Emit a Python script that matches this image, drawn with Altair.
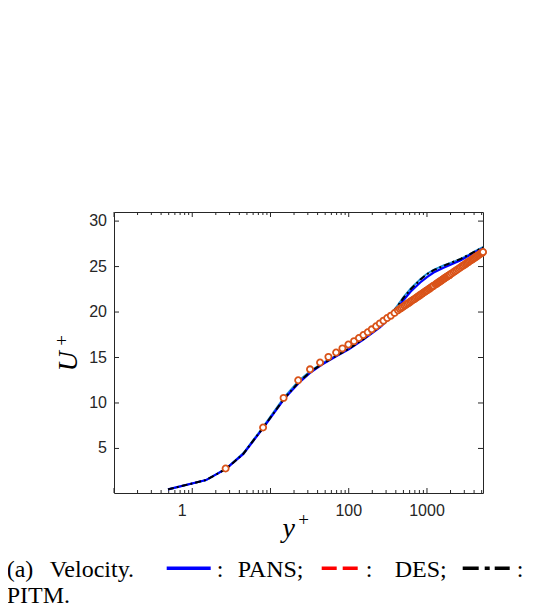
import altair as alt
import pandas as pd

# ---------------- data ----------------
# DNS reference (open circles)
dns_yp = [2.67, 8.04, 14.7, 22.6, 32, 43, 55, 69, 83, 99, 117, 135, 154, 175, 197, 224,
          250, 278, 310, 345, 385, 426, 450, 470, 492, 515, 537, 560, 585, 610, 635, 660, 688, 715,
          742, 770, 800, 830, 860, 890, 920, 950, 980, 1010, 1045, 1080, 1115, 1150, 1185, 1220,
          1290, 1330, 1370, 1410, 1450, 1490, 1530, 1570, 1610, 1655, 1700, 1745, 1790, 1835, 1880,
          1925, 1970, 2070, 2170, 2270, 2370, 2480, 2590, 2700, 2810, 2920, 3040, 3160, 3280, 3400,
          3520, 3650, 3780, 3910, 4040, 4170, 4300, 4440, 4580, 4720, 4860, 5000, 5140, 5200]
dns_up = [2.8, 7.3, 10.56, 12.5, 13.7, 14.45, 15.07, 15.55, 16.0, 16.43, 16.8, 17.15, 17.48, 17.78, 18.1, 18.44,
          18.75, 19.05, 19.35, 19.6, 19.9, 20.2, 20.33, 20.45, 20.57, 20.69, 20.79, 20.9, 21.01, 21.12, 21.22, 21.32, 21.42, 21.52,
          21.62, 21.71, 21.81, 21.91, 22.0, 22.09, 22.18, 22.26, 22.34, 22.41, 22.5, 22.58, 22.67, 22.75, 22.83, 22.9,
          23.04, 23.12, 23.2, 23.27, 23.34, 23.41, 23.48, 23.55, 23.61, 23.68, 23.75, 23.82, 23.88, 23.94, 24.0,
          24.06, 24.12, 24.25, 24.37, 24.49, 24.6, 24.71, 24.82, 24.93, 25.03, 25.13, 25.23, 25.33, 25.43, 25.52,
          25.61, 25.7, 25.79, 25.87, 25.95, 26.04, 26.12, 26.2, 26.28, 26.36, 26.43, 26.5, 26.56, 26.6]

# PANS (blue solid)
pans_yp = [0.49, 1.5, 2.7, 4.5, 8, 15, 23, 32, 45, 70, 100, 155, 250, 330, 410, 500, 620, 820,
           1000, 1216, 1600, 2000, 2700, 3500, 4300, 5200]
pans_up = [0.5, 1.52, 2.75, 4.4, 7.2, 10.45, 12.2, 13.3, 14.2, 15.15, 15.9, 17.0, 18.3, 19.3, 20.3, 21.3, 22.25, 23.25,
           23.85, 24.35, 24.85, 25.2, 25.7, 26.25, 26.65, 27.0]

# light-blue curve
lb_yp = [0.49, 1.5, 2.7, 4.5, 8, 15, 23, 32, 45, 70, 100, 155, 250, 330, 410, 500, 620, 820,
         1000, 1216, 1600, 2000, 2700, 3500, 4300, 5200]
lb_up = [0.5, 1.52, 2.78, 4.5, 7.35, 10.65, 12.45, 13.5, 14.35, 15.25, 16.0, 17.1, 18.5, 19.6, 20.6, 21.65, 22.6, 23.6,
         24.2, 24.65, 25.1, 25.4, 25.85, 26.35, 26.8, 27.15]

# PITM (black dash-dot)
pitm_yp = [0.49, 1.5, 2.7, 4.5, 8, 15, 23, 32, 45, 70, 100, 155, 250, 330, 410, 500, 620, 820,
           1000, 1216, 1600, 2000, 2700, 3500, 4300, 5200]
pitm_up = [0.5, 1.52, 2.75, 4.42, 7.25, 10.5, 12.3, 13.4, 14.25, 15.2, 15.95, 17.05, 18.4, 19.5, 20.5, 21.55, 22.5, 23.55,
           24.15, 24.6, 25.05, 25.4, 25.85, 26.35, 26.75, 27.1]

x_major = [0.1, 1, 10, 100, 1000]
x_minor = [0.2, 0.3, 0.4, 0.5, 0.6, 0.7, 0.8, 0.9, 2, 3, 4, 5, 6, 7, 8, 9,
           20, 30, 40, 50, 60, 70, 80, 90, 200, 300, 400, 500, 600, 700, 800, 900,
           2000, 3000, 4000, 5000]
x_labels = ["100", "1000"]
x_label_vals = [100, 1000]
y_ticks = [5, 10, 15, 20, 25, 30]
y_labels = ["5", "10", "15", "20", "25", "30"]

# ---------------- layout ----------------
W, H = 369, 281
AX = "#262626"
xs = alt.Scale(type="log", domain=[0.1, 5200], nice=False)
ys = alt.Scale(domain=[0.1, 31], nice=False, zero=False)


def line_layer(xv, yv, color, width, dash=None):
    df = pd.DataFrame({"x": xv, "u": yv})
    kw = dict(color=color, strokeWidth=width)
    if dash:
        kw["strokeDash"] = dash
    return alt.Chart(df).mark_line(**kw).encode(
        x=alt.X("x:Q", scale=xs, axis=None),
        y=alt.Y("u:Q", scale=ys, axis=None),
        order="x:Q",
    )


# tick marks (inward)
maj = pd.DataFrame({"v": x_major})
mnr = pd.DataFrame({"v": x_minor})
yt = pd.DataFrame({"v": y_ticks, "t": y_labels})
tick_layers = [
    alt.Chart(maj).mark_rule(color=AX, strokeWidth=1).encode(
        x=alt.X("v:Q", scale=xs, axis=None), y=alt.value(H), y2=alt.value(H - 5)),
    alt.Chart(maj).mark_rule(color=AX, strokeWidth=1).encode(
        x=alt.X("v:Q", scale=xs, axis=None), y=alt.value(0), y2=alt.value(5)),
    alt.Chart(mnr).mark_rule(color=AX, strokeWidth=1).encode(
        x=alt.X("v:Q", scale=xs, axis=None), y=alt.value(H), y2=alt.value(H - 3)),
    alt.Chart(mnr).mark_rule(color=AX, strokeWidth=1).encode(
        x=alt.X("v:Q", scale=xs, axis=None), y=alt.value(0), y2=alt.value(3)),
    alt.Chart(yt).mark_rule(color=AX, strokeWidth=1).encode(
        y=alt.Y("v:Q", scale=ys, axis=None), x=alt.value(0), x2=alt.value(5)),
    alt.Chart(yt).mark_rule(color=AX, strokeWidth=1).encode(
        y=alt.Y("v:Q", scale=ys, axis=None), x=alt.value(W), x2=alt.value(W - 5)),
]

# tick labels
ylab = alt.Chart(yt).mark_text(font="Liberation Sans", fontSize=16, color=AX, align="right",
                               baseline="middle").encode(
    y=alt.Y("v:Q", scale=ys, axis=None), x=alt.value(-7), text="t:N")
xl = pd.DataFrame({"v": x_label_vals, "t": x_labels})
xlab = alt.Chart(xl).mark_text(font="Liberation Sans", fontSize=16, color=AX, baseline="top").encode(
    x=alt.X("v:Q", scale=xs, axis=None), y=alt.value(H + 10), text="t:N")
xl1 = pd.DataFrame({"v": [1], "t": ["1"]})
xlab1 = alt.Chart(xl1).mark_text(font="Liberation Sans", fontSize=16, color=AX, baseline="top", dx=-10).encode(
    x=alt.X("v:Q", scale=xs, axis=None), y=alt.value(H + 10), text="t:N")

# DNS circles
dns = pd.DataFrame({"x": dns_yp, "u": dns_up})
circles = alt.Chart(dns).mark_point(shape="circle", filled=False, color="#D95319", size=38,
                                     strokeWidth=1.8, opacity=1, fill="white", fillOpacity=1).encode(
    x=alt.X("x:Q", scale=xs, axis=None), y=alt.Y("u:Q", scale=ys, axis=None))

one = pd.DataFrame({"a": [0]})


def txt(s, x, y, size=24, font="Liberation Serif", style="normal", angle=0, align="left", baseline="alphabetic"):
    return alt.Chart(one).mark_text(text=s, font=font, fontSize=size, fontStyle=style, angle=angle,
                                    align=align, baseline=baseline, color="black").encode(
        x=alt.value(x), y=alt.value(y))


def seg(x1, x2, y, color, width, dash=None):
    kw = dict(color=color, strokeWidth=width)
    if dash:
        kw["strokeDash"] = dash
    return alt.Chart(one).mark_rule(**kw).encode(x=alt.value(x1), x2=alt.value(x2), y=alt.value(y))


ox, oy = 114.3, 211.7


def px(x):
    return x - ox


def py(y):
    return y - oy


texts = [
    txt("U", px(69), py(361), size=28, style="italic", angle=270, align="center", baseline="middle"),
    txt("+", px(62), py(340), size=19, angle=270, align="center", baseline="middle"),
    txt("y", px(289), py(537), size=28, style="italic", align="center"),
    txt("+", px(304), py(520), size=19, align="center", baseline="middle"),
    txt("(a)", px(7), py(577)),
    txt("Velocity.", px(50), py(577)),
    seg(px(167), px(211), py(568), "#0000FF", 3.5),
    txt(":", px(217), py(577)),
    txt("PANS;", px(238), py(577)),
    seg(px(322), px(358), py(568), "#FF0000", 3.5, [15, 6]),
    txt(":", px(366), py(577)),
    txt("DES;", px(395), py(577)),
    seg(px(463), px(510), py(568), "#000000", 3.5, [16, 6, 5, 5]),
    txt(":", px(517), py(577)),
    txt("PITM.", px(7), py(603)),
]

chart = alt.layer(
    *tick_layers,
    line_layer(lb_yp, lb_up, "#1E8FD8", 1.8),
    line_layer(pans_yp, pans_up, "#0000FF", 2.2),
    line_layer(pitm_yp, pitm_up, "#000000", 2.0, [6, 3, 2, 3]),
    circles,
    ylab, xlab, xlab1,
    *texts,
).properties(
    width=W, height=H,
    padding={"left": 106, "top": 204, "right": 50, "bottom": 115},
    autosize=alt.AutoSizeParams(type="none"),
).configure_view(stroke=AX, strokeWidth=1)

chart.save("out.html", embed_options={"renderer": "svg", "actions": False})
